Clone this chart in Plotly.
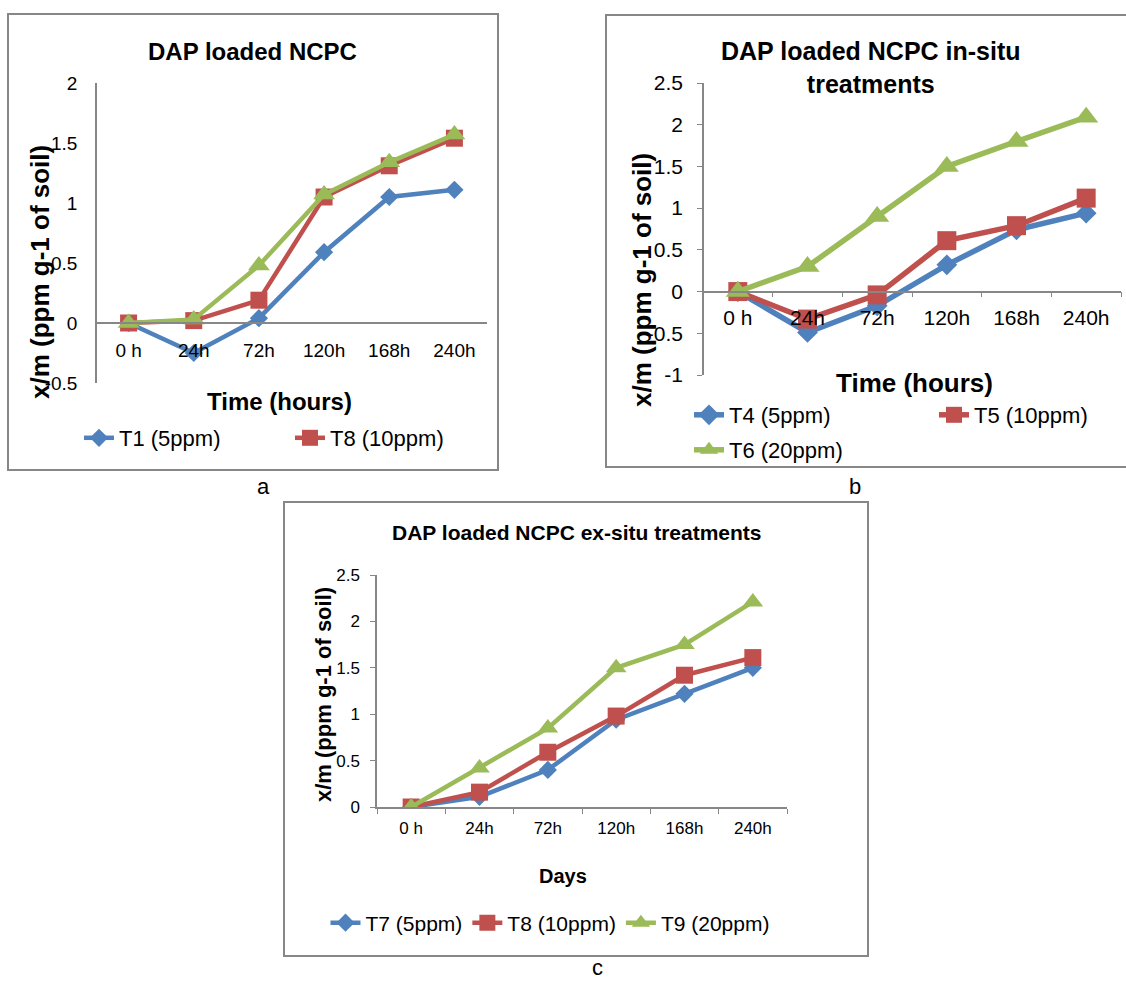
import plotly.graph_objects as go

W, H = 1126, 982

# ---------------- data ----------------
categories = ["0 h", "24h", "72h", "120h", "168h", "240h"]

# panel a
a_names = ["T1 (5ppm)", "T8 (10ppm)", "(20ppm)"]
a_t1 = [0, -0.25, 0.04, 0.59, 1.05, 1.11]
a_t8 = [0, 0.02, 0.19, 1.05, 1.31, 1.54]
a_t20 = [0, 0.03, 0.48, 1.07, 1.34, 1.57]

# panel b
b_names = ["T4 (5ppm)", "T5 (10ppm)", "T6 (20ppm)"]
b_t4 = [0, -0.49, -0.17, 0.32, 0.74, 0.94]
b_t5 = [0, -0.33, -0.04, 0.61, 0.79, 1.12]
b_t6 = [0, 0.3, 0.9, 1.5, 1.8, 2.09]

# panel c
c_names = ["T7 (5ppm)", "T8 (10ppm)", "T9 (20ppm)"]
c_t7 = [0, 0.11, 0.4, 0.94, 1.22, 1.5]
c_t8 = [0, 0.16, 0.59, 0.98, 1.42, 1.61]
c_t9 = [0, 0.42, 0.85, 1.5, 1.75, 2.21]

a_yticks = [-0.5, 0, 0.5, 1, 1.5, 2]
a_ylabels = ["-0.5", "0", "0.5", "1", "1.5", "2"]
b_yticks = [-1, -0.5, 0, 0.5, 1, 1.5, 2, 2.5]
b_ylabels = ["-1", "-0.5", "0", "0.5", "1", "1.5", "2", "2.5"]
c_yticks = [0, 0.5, 1, 1.5, 2, 2.5]
c_ylabels = ["0", "0.5", "1", "1.5", "2", "2.5"]

# ---------------- styles ----------------
BLUE, RED, GREEN = "#4F81BD", "#C0504D", "#9BBB59"
AXC = "#878787"
FONT = "Liberation Sans, Arial, sans-serif"
colors = [BLUE, RED, GREEN]
symbols = ["diamond", "square", "triangle-up"]


def xd(p0, p1):
    return [p0 / W, p1 / W]


def yd(top, bottom):
    return [1 - bottom / H, 1 - top / H]


fig = go.Figure()

panels = [
    ("x", "y", ["legend", "legend", "legend"], a_names, [a_t1, a_t8, a_t20],
     [True, True, False], [14, 17, 19], 4.5),
    ("x2", "y2", ["legend2", "legend2", "legend4"], b_names, [b_t4, b_t5, b_t6],
     [True, True, True], [16, 19, 21], 5.5),
    ("x3", "y3", ["legend3", "legend3", "legend3"], c_names, [c_t7, c_t8, c_t9],
     [True, True, True], [14, 17, 18], 4.5),
]
for xa, ya, lgs, names, series, shows, msz, lw in panels:
    for i, (nm, vals, sh, lg) in enumerate(zip(names, series, shows, lgs)):
        fig.add_trace(go.Scatter(
            x=categories, y=vals, name=nm, mode="lines+markers",
            xaxis=xa, yaxis=ya, legend=lg, showlegend=sh,
            line=dict(color=colors[i], width=lw),
            marker=dict(symbol=symbols[i], size=msz[i], color=colors[i]),
        ))

# domains
a_xd, a_yd, a_yr = xd(96, 487), yd(83, 383), [-0.5, 2]
b_xd, b_yd, b_yr = xd(703, 1121), yd(83, 375), [-1, 2.5]
c_xd, c_yd, c_yr = xd(377, 787), yd(575, 807), [0, 2.5]


def zero_pos(dom, rng):
    return dom[0] + (0 - rng[0]) / (rng[1] - rng[0]) * (dom[1] - dom[0])


common_x = dict(type="category", showgrid=False, showline=True, linecolor=AXC,
                linewidth=1.5, range=[-0.5, 5.5], tickcolor=AXC, zeroline=False,
                tickangle=0)
common_y = dict(showgrid=False, showline=True, linecolor=AXC, linewidth=1.5,
                zeroline=False, tickcolor=AXC)

leg_common = dict(orientation="h", xanchor="left", yanchor="middle",
                  bgcolor="rgba(0,0,0,0)")

fig.update_layout(
    width=W, height=H, margin=dict(l=0, r=0, t=0, b=0, autoexpand=False),
    paper_bgcolor="white", plot_bgcolor="white",
    font=dict(family=FONT, color="black"),
    xaxis=dict(common_x, domain=a_xd, anchor="free", position=zero_pos(a_yd, a_yr),
               ticks="", tickfont=dict(size=19), ticklabelstandoff=10),
    yaxis=dict(common_y, domain=a_yd, anchor="free", position=a_xd[0], range=a_yr,
               tickvals=a_yticks, ticktext=a_ylabels, ticks="",
               tickfont=dict(size=19), ticklabelstandoff=14),
    xaxis2=dict(common_x, domain=b_xd, anchor="free", position=zero_pos(b_yd, b_yr),
                ticks="outside", tickson="boundaries", ticklen=5,
                tickfont=dict(size=21), ticklabelstandoff=7),
    yaxis2=dict(common_y, domain=b_yd, anchor="free", position=b_xd[0], range=b_yr,
                tickvals=b_yticks, ticktext=b_ylabels, ticks="outside", ticklen=5,
                tickfont=dict(size=21), ticklabelstandoff=10),
    xaxis3=dict(common_x, domain=c_xd, anchor="y3",
                ticks="outside", tickson="boundaries", ticklen=5,
                tickfont=dict(size=17), ticklabelstandoff=5),
    yaxis3=dict(common_y, domain=c_yd, anchor="x3", range=c_yr,
                tickvals=c_yticks, ticktext=c_ylabels, ticks="outside", ticklen=5,
                tickfont=dict(size=17), ticklabelstandoff=7),
    legend=dict(leg_common, x=79 / W, y=1 - 438 / H, font=dict(size=22), entrywidth=166),
    legend2=dict(leg_common, x=689 / W, y=1 - 415 / H, font=dict(size=22), entrywidth=200),
    legend4=dict(leg_common, x=689 / W, y=1 - 450 / H, font=dict(size=22)),
    legend3=dict(leg_common, x=550 / W, y=1 - 923 / H, xanchor="center", font=dict(size=21)),
)

# panel borders
for (x0, y0, x1, y1) in [(8, 14, 498, 470), (606, 15, 1140, 467), (284, 502, 868, 956)]:
    fig.add_shape(type="rect", xref="paper", yref="paper",
                  x0=x0 / W, x1=x1 / W, y0=1 - y1 / H, y1=1 - y0 / H,
                  line=dict(color=AXC, width=2), fillcolor="rgba(0,0,0,0)", layer="below")


def ann(text, px, py, size, bold=True, angle=0, yanchor="middle"):
    fig.add_annotation(text=f"<b>{text}</b>" if bold else text,
                       x=px / W, y=1 - py / H, xref="paper", yref="paper",
                       showarrow=False, textangle=angle, xanchor="center", yanchor=yanchor,
                       font=dict(size=size, family=FONT, color="black"))


# titles
ann("DAP loaded NCPC", 252, 52, 24)
ann("DAP loaded NCPC in-situ<br>treatments", 871, 67, 25)
ann("DAP loaded NCPC ex-situ treatments", 577, 532, 21)
# axis titles
ann("Time (hours)", 279, 402, 24)
ann("x/m (ppm g-1 of soil)", 40, 272, 26, angle=-90)
ann("Time (hours)", 914, 383, 26)
ann("x/m (ppm g-1 of soil)", 642, 280, 26, angle=-90)
ann("Days", 563, 876, 20)
ann("x/m (ppm g-1 of soil)", 323, 695, 22, angle=-90)
# panel letters
ann("a", 263, 487, 22, bold=False)
ann("b", 855, 487, 22, bold=False)
ann("c", 597, 982, 22, bold=False, yanchor="bottom")

fig.write_html("out.html")
